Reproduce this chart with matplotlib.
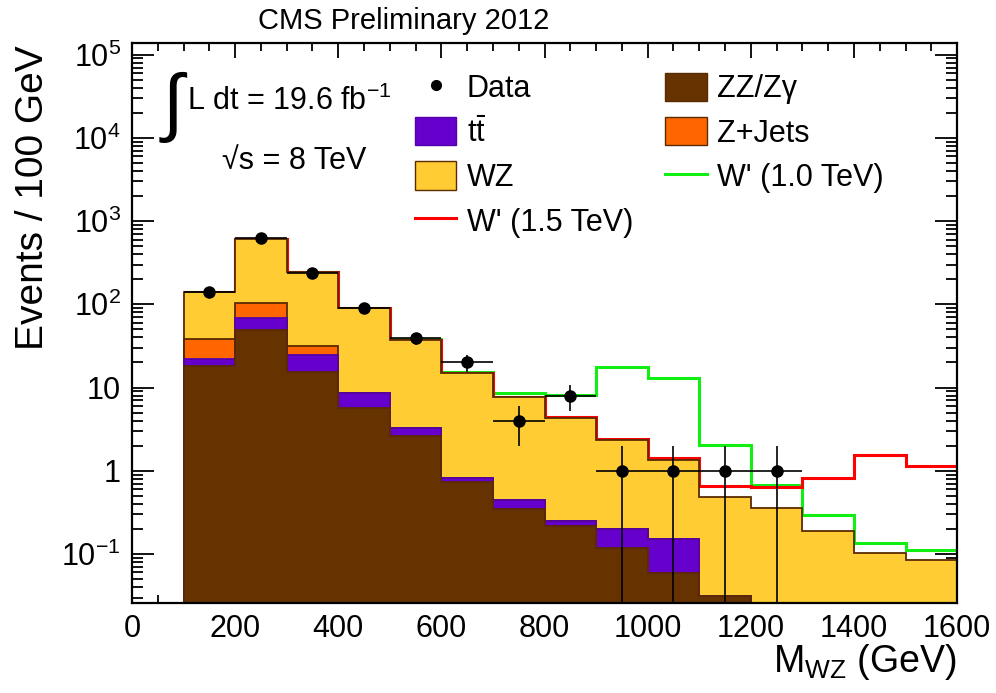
import numpy as np
import matplotlib
matplotlib.use('Agg')
import matplotlib.pyplot as plt
from matplotlib.ticker import MultipleLocator, FixedLocator, FuncFormatter, NullFormatter
from matplotlib.patches import Patch
from matplotlib.lines import Line2D

plt.rcParams['font.family'] = ['Liberation Sans', 'DejaVu Sans']
plt.rcParams['mathtext.fontset'] = 'custom'
plt.rcParams['mathtext.rm'] = 'Liberation Sans'
plt.rcParams['mathtext.it'] = 'Liberation Sans'
plt.rcParams['mathtext.bf'] = 'Liberation Sans:bold'

# bins of 100 GeV, 0 - 1600
bin_edges = [0, 100, 200, 300, 400, 500, 600, 700, 800, 900, 1000, 1100, 1200, 1300, 1400, 1500, 1600]

# stacked backgrounds (events per bin), bottom to top
zz = [0, 18.2, 48.9, 15.4, 5.66, 2.63, 0.74, 0.343, 0.215, 0.117, 0.059, 0.031, 0.012, 0.008, 0.005, 0.003]
ttbar = [0, 3.7, 20.1, 9.3, 2.91, 0.62, 0.08, 0.10, 0.035, 0.08, 0.092, 0, 0, 0, 0, 0]
zjets = [0, 16.1, 36.0, 7.0, 0, 0, 0, 0, 0, 0, 0, 0, 0, 0, 0, 0]
wz = [0, 104, 510, 213, 81.2, 33.7, 14.3, 7.25, 4.04, 2.14, 1.19, 0.447, 0.35, 0.18, 0.098, 0.082]

# signal + background, from 100 GeV on
sig_edges = bin_edges[1:]
wprime_15 = [142, 615, 245, 90, 37, 15.1, 7.7, 4.4, 2.4, 1.44, 0.66, 0.64, 0.82, 1.56, 1.14]
wprime_10 = [142, 615, 245, 91, 38.5, 15.5, 8.7, 8.2, 17.7, 13.1, 2.05, 0.68, 0.296, 0.134, 0.113]

# data
data_x = [150, 250, 350, 450, 550, 650, 750, 850, 950, 1050, 1150, 1250]
data_y = [142, 620, 240, 91, 39, 20, 4, 8, 1, 1, 1, 1]

c_zz = '#663300'
c_tt = '#6600cc'
c_zj = '#ff6600'
c_wz = '#ffcc33'
c_edge = '#5a2a00'

fig = plt.figure(figsize=(9.96, 6.93), dpi=100)
ax = fig.add_axes([0.1325, 0.1303, 0.8285, 0.8077])
ax.set_yscale('log')
ax.set_xlim(0, 1600)
ax.set_ylim(0.026, 1.38e5)

edges = np.array(bin_edges)
floor = 1e-3
layers = [(zz, c_zz, c_edge), (ttbar, c_tt, '#5500aa'), (zjets, c_zj, c_edge), (wz, c_wz, c_edge)]
tops = []
cum = np.zeros(len(zz))
for vals, fc, ec in layers:
    cum = cum + np.array(vals, dtype=float)
    tops.append((np.where(cum > 0, cum, floor), fc, ec))

for top, fc, ec in reversed(tops):
    ax.stairs(top, edges, baseline=floor, fill=True, color=fc, zorder=2)

ax.stairs(wprime_15, sig_edges, baseline=None, color='#ff0000', lw=2.2, zorder=1.8)
ax.stairs(wprime_10, sig_edges, baseline=None, color='#11ee11', lw=2.2, zorder=1.7)

for top, fc, ec in reversed(tops):
    ax.stairs(top, edges, baseline=floor, fill=False, color=ec, lw=1.3, zorder=4)

dy = np.array(data_y, dtype=float)
err = np.sqrt(dy)
low = np.minimum(err, dy * 0.999)
ax.errorbar(data_x, dy, xerr=50, yerr=[low, err], fmt='o', color='black', ms=8,
            elinewidth=1.2, capsize=0, zorder=6)

# axes styling
for s in ax.spines.values():
    s.set_linewidth(1.6)
    s.set_zorder(7)
ax.xaxis.set_major_locator(MultipleLocator(200))
ax.xaxis.set_minor_locator(MultipleLocator(50))
decades = [0.1, 1, 10, 1e2, 1e3, 1e4, 1e5]
minors = [m * d for d in [0.01] + decades for m in range(2, 10) if 0.026 < m * d < 1.38e5]
ax.yaxis.set_major_locator(FixedLocator(decades))
ax.yaxis.set_minor_locator(FixedLocator(minors))
ax.yaxis.set_minor_formatter(NullFormatter())


def ylab(v, pos):
    e = int(round(np.log10(v)))
    if e == 0:
        return '1'
    if e == 1:
        return '10'
    return r'10$^{%d}$' % e


ax.yaxis.set_major_formatter(FuncFormatter(ylab))
ax.tick_params(axis='both', which='both', direction='in', top=True, right=True, width=1.3)
ax.tick_params(axis='x', which='major', length=11, labelsize=22, pad=8)
ax.tick_params(axis='x', which='minor', length=5.5)
ax.tick_params(axis='y', which='major', length=16, labelsize=22, pad=8)
ax.tick_params(axis='y', which='minor', length=8)

fig.text(0.033, 0.935, 'Events / 100 GeV', rotation=90, ha='center', va='top', fontsize=28)
fig.text(0.961, 0.045, r'M$_{\mathrm{WZ}}$ (GeV)', ha='right', va='center', fontsize=27)
fig.text(0.405, 0.97, 'CMS Preliminary 2012', ha='center', va='center', fontsize=21)

ax.text(0.037, 0.885, '\u222b', transform=ax.transAxes, fontsize=54, ha='left', va='center')
ax.text(0.067, 0.895, r'L dt = 19.6 fb$^{-1}$', transform=ax.transAxes, fontsize=22,
        ha='left', va='center')
ax.text(0.109, 0.79, '\u221as = 8 TeV', transform=ax.transAxes, fontsize=22,
        ha='left', va='center')

handles = [
    Line2D([], [], marker='o', ls='none', color='black', ms=7),
    Patch(facecolor=c_tt, edgecolor='#5500aa'),
    Patch(facecolor=c_wz, edgecolor=c_edge),
    Line2D([], [], color='#ff0000', lw=2.2),
    Patch(facecolor=c_zz, edgecolor=c_edge),
    Patch(facecolor=c_zj, edgecolor=c_edge),
    Line2D([], [], color='#11ee11', lw=2.2),
]
labels = ['Data', r't$\bar{\mathrm{t}}$', 'WZ', "W' (1.5 TeV)", 'ZZ/Z\u03b3', 'Z+Jets', "W' (1.0 TeV)"]
ax.legend(handles, labels, ncol=2, loc='upper left', bbox_to_anchor=(0.343, 0.947),
          frameon=False, fontsize=22, handlelength=1.35, handleheight=1.05,
          handletextpad=0.35, columnspacing=1.05, labelspacing=0.42, borderpad=0,
          borderaxespad=0)

fig.savefig('out.png', dpi=100)
